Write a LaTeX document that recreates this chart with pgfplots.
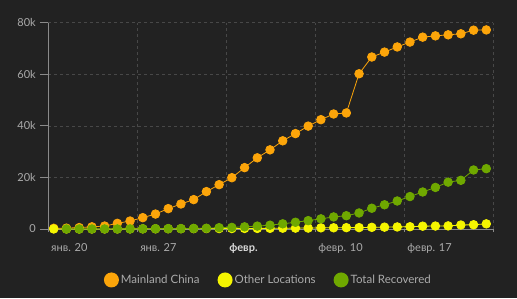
\documentclass[border=0pt]{standalone}
\usepackage{pgfplots}
\pgfplotsset{compat=1.18}
\usepackage{fontspec}
\setmainfont{Lato}
\definecolor{bgC}{HTML}{222222}
\definecolor{orangeC}{HTML}{FCA50A}
\definecolor{yellowC}{HTML}{F5F500}
\definecolor{greenC}{HTML}{6FA800}
\definecolor{gridC}{HTML}{484848}
\definecolor{axisC}{HTML}{8A8A8A}
\definecolor{labelC}{HTML}{ABABAB}
\definecolor{boldC}{HTML}{DADADA}
\begin{document}
\begin{tikzpicture}
\fill[bgC] (-48pt,-69pt) rectangle (469pt,229pt);
\begin{axis}[
  scale only axis, width=445.3pt, height=206.3pt,
  at={(0,0)}, anchor=south west,
  xmin=0, xmax=35, ymin=0, ymax=80000,
  axis x line*=bottom, axis y line*=left,
  x axis line style={-, draw=axisC, line width=0.8pt},
  y axis line style={-, draw=axisC, line width=0.8pt},
  xtick={0,7,14,21,28,35},
  xticklabels={янв. 20, янв. 27, {\textcolor{boldC}{\bfseries февр.}}, февр. 10, февр. 17, {}},
  ytick={0,20000,40000,60000,80000},
  yticklabels={0,20k,40k,60k,80k},
  scaled y ticks=false,
  tick align=outside,
  major tick length=8pt,
  xtick style={draw=axisC, line width=0.8pt, /pgfplots/major tick length=3pt},
  ytick style={draw=axisC, line width=0.8pt},
  grid=major,
  major grid style={draw=gridC, line width=0.6pt, dash pattern=on 3pt off 3pt},
  tick label style={font=\fontsize{11}{13}\selectfont, text=labelC},
  xticklabel style={anchor=north west, inner sep=0pt, xshift=3pt, yshift=-6pt},
  yticklabel style={anchor=east, inner sep=0pt, xshift=-4pt},
  clip=false,
  legend style={at={(0.495,-0.247)}, anchor=center, draw=none, fill=none,
    text=labelC, font=\fontsize{11.5}{13}\selectfont, inner sep=0pt,
    /tikz/every even column/.append style={column sep=16pt}},
  legend columns=3,
  legend cell align=left,
  legend image code/.code={\fill[#1,draw=none] (7.5pt,0pt) circle (7.5pt);},
  every axis plot/.append style={line width=0.8pt, mark=*, mark size=4.3pt, mark options={draw=none}},
]
\addplot[color=orangeC, mark options={fill=orangeC, draw=none}] coordinates {
(0.45,280) (1.45,330) (2.45,550) (3.45,850) (4.45,1150) (5.45,2200) (6.45,3100)
(7.45,4400) (8.45,5800) (9.45,7900) (10.45,9700) (11.45,11400) (12.45,14500)
(13.45,17200) (14.45,19900) (15.45,23800) (16.45,27600) (17.45,30700) (18.45,34200)
(19.45,37000) (20.45,39900) (21.45,42400) (22.45,44600) (23.45,45000) (24.45,60200)
(25.45,66700) (26.45,68600) (27.45,70600) (28.45,72500) (29.45,74400) (30.45,74900)
(31.45,75300) (32.45,75700) (33.45,77100) (34.45,77200)
};
\addlegendentry{Mainland China}
\addplot[color=yellowC, mark options={fill=yellowC, draw=none}] coordinates {
(0.45,10) (1.45,10) (2.45,10) (3.45,12) (4.45,20) (5.45,30) (6.45,56)
(7.45,68) (8.45,82) (9.45,105) (10.45,118) (11.45,153) (12.45,173)
(13.45,183) (14.45,188) (15.45,212) (16.45,227) (17.45,265) (18.45,317)
(19.45,343) (20.45,361) (21.45,457) (22.45,476) (23.45,523) (24.45,540)
(25.45,650) (26.45,720) (27.45,800) (28.45,880) (29.45,1100) (30.45,1150)
(31.45,1200) (32.45,1550) (33.45,1650) (34.45,2000)
};
\addlegendentry{Other Locations}
\addplot[color=greenC, mark options={fill=greenC, draw=none}] coordinates {
(1.45,25) (2.45,28) (3.45,30) (4.45,36) (5.45,39) (6.45,52)
(7.45,61) (8.45,107) (9.45,126) (10.45,143) (11.45,222) (12.45,284)
(13.45,510) (14.45,623) (15.45,852) (16.45,1124) (17.45,1487) (18.45,2011)
(19.45,2616) (20.45,3244) (21.45,3946) (22.45,4683) (23.45,5150) (24.45,6217)
(25.45,8058) (26.45,9395) (27.45,10865) (28.45,12583) (29.45,14352) (30.45,16121)
(31.45,18177) (32.45,18890) (33.45,22886) (34.45,23394)
};
\addlegendentry{Total Recovered}
\end{axis}
\end{tikzpicture}
\end{document}
